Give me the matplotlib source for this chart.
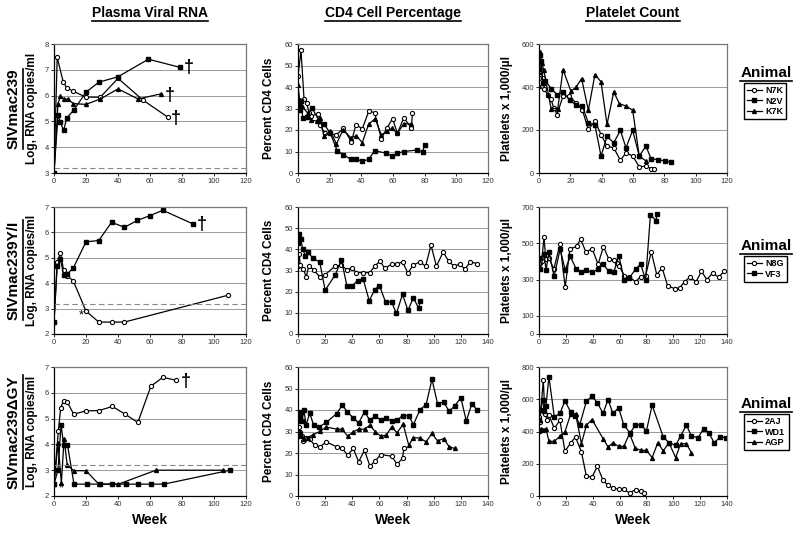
import matplotlib
matplotlib.use("Agg")
import matplotlib.pyplot as plt
from matplotlib.lines import Line2D

plt.rcParams["font.family"] = ["Liberation Sans", "DejaVu Sans"]

# ---------------- Row 1: SIVmac239 ----------------
rna1_n7k_wk = [0, 2, 5.8, 8, 12, 20, 29, 40, 55.5, 71]
rna1_n7k = [3.0, 7.48, 6.52, 6.3, 6.17, 5.94, 5.94, 6.67, 5.83, 5.17]
rna1_n2v_wk = [0, 2.5, 4, 6, 8, 12.5, 20, 28, 40, 59, 79]
rna1_n2v = [3.0, 5.26, 4.96, 4.65, 5.13, 5.45, 6.13, 6.52, 6.73, 7.41, 7.09]
rna1_k7k_wk = [0, 2.5, 4, 6, 9, 12, 20, 29, 40, 52.5, 67]
rna1_k7k = [3.0, 5.69, 5.98, 5.88, 5.85, 5.69, 5.66, 5.87, 6.26, 5.87, 6.07]

cd4_1_n7k_wk = [0, 1.9, 3.8, 5.4, 7.1, 8.4, 12.8, 14.2, 16.8, 24.3, 28.7, 33.7, 36.6, 40.6,
                44.8, 48.4, 52.6, 56.3, 59.7, 62.8, 66.8, 71.6, 72.3]
cd4_1_n7k = [45, 57, 34.5, 32.5, 28, 26.5, 27.6, 22.2, 18.4, 17.8, 20.8, 14.5, 22.5, 20.5,
             29, 28, 16, 21, 25.3, 18.4, 25.7, 21, 28]
cd4_1_n2v_wk = [0, 1.3, 2, 3, 5.4, 8.8, 13.4, 16.5, 20.5, 24.7, 28.5, 33.3, 36.9, 40.6,
                44.6, 48.4, 55.7, 59.5, 62.8, 67, 75.2, 78.7, 80]
cd4_1_n2v = [31.7, 29.4, 33.7, 25.4, 26, 30.3, 24.2, 22.7, 18.4, 10.4, 8.6, 6.4, 6.4, 5.5,
             6.3, 10.4, 9.2, 8, 9.2, 10, 10.7, 10, 13]
cd4_1_k7k_wk = [0, 1, 2.5, 6, 8.4, 12, 14, 16.3, 20.5, 24.3, 28.5, 33.3, 36.9, 40.6, 44.6,
                48.8, 52.6, 56, 59.5, 62.8, 66.8, 71.6]
cd4_1_k7k = [41, 34, 31, 28, 24.5, 24.2, 25.7, 17.3, 19.4, 13.5, 20.2, 16.4, 17.3, 14.1, 22.7,
             25.3, 17.6, 19.4, 20.7, 18.4, 23, 22.7]

plt1_n7k_wk = [0, 0.5, 1.3, 2.5, 3.4, 5.5, 7.7, 9.4, 11.5, 15.3, 19.1, 23.8, 27.7, 31.5, 35.7,
               39.6, 43.4, 47.7, 52, 55.5, 59.8, 64, 68.3, 71.5, 73.6]
plt1_n7k = [440, 472, 473, 440, 393, 362, 342, 303, 272, 357, 357, 326, 292, 203, 241,
            179, 125, 117, 59, 94, 79, 29, 32, 20, 20]
plt1_n2v_wk = [0, 0.5, 1.3, 2.4, 4, 7.7, 11.5, 15.3, 19.6, 23.8, 27.7, 31.5, 35.7, 39.6, 43.4,
               47.7, 52, 55.5, 59.8, 64, 68.3, 71.5, 76.2, 80.4, 84.3]
plt1_n2v = [484, 548, 522, 419, 430, 393, 365, 377, 339, 315, 311, 233, 223, 79, 170,
            141, 198, 117, 198, 79, 125, 66, 62, 56, 51]
plt1_k7k_wk = [0, 0.9, 1.7, 3, 6, 7.7, 12, 15.3, 20.4, 23.6, 27.2, 31.5, 35.7, 39.6, 43.4,
               47.7, 51.3, 55.5, 59.8, 64, 68.3]
plt1_k7k = [406, 565, 510, 481, 365, 300, 300, 481, 380, 399, 439, 291, 458, 424, 226,
            377, 323, 311, 292, 79, 56]

# ---------------- Row 2: SIVmac239Y/I ----------------
rna2_n8g_wk = [0, 2, 4, 6, 8, 12, 20, 28, 36, 44, 109]
rna2_n8g = [2.47, 4.82, 5.2, 4.52, 4.3, 4.1, 2.9, 2.47, 2.47, 2.47, 3.53]
rna2_vf3_wk = [0, 2, 4, 6, 8, 12, 20, 28, 36, 44, 52, 60, 68, 87]
rna2_vf3 = [2.47, 4.68, 4.95, 4.33, 4.35, 4.59, 5.63, 5.68, 6.4, 6.2, 6.47, 6.66, 6.87, 6.33]

cd4_2_n8g_wk = [0, 1, 1.5, 4, 6, 8, 11.5, 16, 20, 27.5, 32, 36, 40, 43, 48, 53, 56.5, 60.5,
                64, 69, 73, 77, 81, 85, 90, 94, 98, 102, 107, 111, 115, 119, 123, 127, 132]
cd4_2_n8g = [32, 38, 32.7, 30.7, 27, 32, 30.4, 27, 28, 32.2, 32.4, 30.4, 31.2, 29, 29, 29,
             32.2, 34.3, 31, 33, 33, 34.1, 28.8, 32.6, 34.1, 32, 42, 32, 38.8, 34.3, 32, 33,
             30.7, 34.1, 33.2]
cd4_2_vf3_wk = [0, 0.5, 2, 3.5, 5.5, 7, 11, 16, 20, 27.5, 32, 36, 40, 44, 48, 52.5, 56.5, 60,
                64.5, 69, 72.5, 77, 81, 85, 89, 90]
cd4_2_vf3 = [43.1, 47.2, 44.9, 40, 36.9, 38.9, 35.8, 34, 20.7, 28, 35, 22.9, 22.9, 25.2, 26,
             15.7, 21, 22.9, 15.1, 15.1, 9.7, 18.7, 11.2, 17.1, 12.1, 15.6]

plt2_n8g_wk = [0, 0.75, 2, 3.75, 5, 7.5, 11, 15.7, 19.5, 23, 28, 31, 35, 39.5, 44, 48, 52, 56,
               58, 59.6, 63.5, 67.2, 72, 75.7, 79.4, 83.6, 87.7, 91.7, 95.8, 101.4, 104.8,
               108.5, 112.2, 117, 121, 125, 129.3, 133.7, 137.8]
plt2_n8g = [361, 389, 400, 536, 413, 417, 358, 495, 257, 468, 483, 523, 450, 471, 385, 481,
            413, 408, 389, 376, 322, 313, 289, 316, 322, 453, 327, 364, 265, 249, 255, 289,
            313, 289, 345, 300, 336, 313, 345]
plt2_vf3_wk = [0, 0.75, 3.75, 5.25, 7.5, 11.25, 15.75, 19.5, 23.25, 27.75, 31.25, 35.25, 39.5,
               44, 47.75, 52, 55.75, 59.5, 63.5, 67.2, 72, 75.7, 79.4, 83, 87.2, 87.9]
plt2_vf3 = [418, 358, 440, 354, 450, 317, 468, 352, 428, 358, 343, 352, 339, 358, 385, 345,
            343, 431, 298, 309, 358, 385, 298, 658, 625, 662]

# ---------------- Row 3: SIVmac239dGY ----------------
rna3_2aj_wk = [0, 2.7, 4.2, 6, 8.4, 12.3, 20, 28, 36.5, 44.5, 52.4, 60.5, 68, 76]
rna3_2aj = [2.46, 4.51, 5.43, 5.7, 5.63, 5.17, 5.3, 5.31, 5.47, 5.17, 4.85, 6.25, 6.6, 6.49]
rna3_wd1_wk = [0, 2.5, 4.4, 6, 8.4, 12.5, 20.9, 28.8, 36.5, 44.9, 52.8, 60.8, 68.7, 110]
rna3_wd1 = [2.46, 3.0, 4.77, 3.99, 3.99, 2.46, 2.46, 2.46, 2.46, 2.46, 2.46, 2.46, 2.46, 3.0]
rna3_agp_wk = [0, 2.5, 4.6, 6.3, 8.2, 12.3, 20, 28, 40.3, 63.7, 105.4]
rna3_agp = [2.46, 4.05, 2.5, 4.22, 3.22, 2.98, 2.98, 2.46, 2.46, 3.0, 3.0]

cd4_3_2aj_wk = [0, 0.5, 1.5, 3, 4, 6, 8.6, 12.4, 16.4, 20.7, 28.5, 32.6, 36.6, 40.7, 44.7, 49,
                53, 57, 61, 69, 73, 77, 78]
cd4_3_2aj = [27.8, 32.1, 29.8, 28, 25.7, 27, 26.3, 23.6, 22.9, 25.2, 22.9, 22.1, 19, 22.1,
             15.9, 21.3, 13.9, 16.4, 19.3, 18.5, 14.8, 17.5, 22.1]
cd4_3_wd1_wk = [0, 1.5, 2.5, 3, 4.3, 6, 8.6, 11.6, 15.7, 20.7, 28.5, 32.6, 36.4, 40.7, 44.7,
                49, 53, 57, 61, 65, 69, 73, 77, 81.6, 85, 90, 94.4, 98.7, 102.8, 107.3, 111.4,
                115.4, 120, 124, 128, 132]
cd4_3_wd1 = [35, 36.8, 39.1, 35, 40.2, 32.9, 38.6, 32.9, 32.1, 34.2, 38.3, 42.3, 39.1, 36.3,
             34, 39.1, 35.2, 37.4, 35.2, 36.3, 34.9, 35.2, 37.4, 37.4, 33.2, 40.2, 42.5, 54.3,
             43, 43.7, 39.4, 41.9, 45.7, 34.9, 42.7, 40.2]
cd4_3_agp_wk = [0, 1.5, 2.5, 4.5, 7, 11.4, 16.4, 20.7, 28.5, 32.6, 36.6, 40.7, 44.7, 49, 53,
                57, 61, 65, 69, 73, 77.5, 81.6, 85, 90, 94.4, 98.7, 102.8, 107.3, 111.4, 115.4]
cd4_3_agp = [27.8, 30, 28.3, 26.7, 27.2, 28.6, 30.1, 32.1, 31.1, 31.1, 27.8, 29.8, 31.1, 31.1,
             32.9, 29.8, 27.8, 28.3, 32.1, 29.4, 33.4, 23.6, 27.2, 26.9, 25.2, 29.1, 25.6,
             26.7, 22.9, 22.1]

plt3_2aj_wk = [0, 0.7, 3.2, 4.4, 6.2, 7.4, 11.4, 15.6, 19.3, 23.5, 27.2, 31.6, 35.3, 39.5,
               43.5, 47.7, 51.4, 55, 59.3, 63.2, 67.4, 71.9, 76, 78.5]
plt3_2aj = [491, 460, 718, 511, 470, 501, 420, 470, 277, 329, 366, 273, 122, 118, 184, 97,
            66, 50, 41, 41, 19, 40, 29, 19]
plt3_wd1_wk = [0, 1, 2.7, 3.7, 5.2, 7.4, 11.4, 15.6, 19.3, 23.5, 27, 30.4, 35.3, 39.5, 43.5,
               47.7, 51.4, 55, 59.3, 63.2, 67.9, 71.75, 76.25, 80, 84.25, 92.5, 96.75, 101.75,
               105.5, 109.75, 113.5, 118.5, 122.5, 126.25, 130.5, 135, 139.25]
plt3_wd1 = [474, 536, 598, 526, 560, 739, 491, 512, 590, 522, 495, 443, 588, 619, 578, 512,
            598, 512, 547, 439, 391, 440, 440, 403, 564, 366, 331, 314, 372, 440, 372, 362,
            417, 393, 331, 366, 362]
plt3_agp_wk = [0, 1.5, 3.2, 5.2, 7.4, 11.4, 15.6, 19.3, 23.5, 27.2, 31.6, 35.3, 39.5, 47.7,
               51.4, 55, 59.3, 63.2, 67.4, 71.75, 76.25, 80, 84.25, 88.5, 92.5, 96.75, 101.75,
               105.5, 109.75, 113.5]
plt3_agp = [404, 418, 412, 418, 339, 339, 370, 397, 507, 511, 325, 439, 474, 356, 304, 329,
            308, 308, 387, 295, 283, 283, 238, 331, 279, 331, 238, 324, 324, 269]

row_names = ["SIVmac239", "SIVmac239Y/I", "SIVmac239\u0394GY"]
col_titles = ["Plasma Viral RNA", "CD4 Cell Percentage", "Platelet Count"]
animals = [["N7K", "N2V", "K7K"], ["N8G", "VF3"], ["2AJ", "WD1", "AGP"]]

W, H = 800, 533
fig = plt.figure(figsize=(W / 100, H / 100), dpi=100)

col_x = [(54, 246), (298, 488), (539, 727)]
row_y = [(44, 173), (207, 334), (367, 496)]
ylabel_x = [-0.085, -0.12, -0.14]


def make_ax(r, c):
    x0, x1 = col_x[c]
    y0, y1 = row_y[r]
    ax = fig.add_axes([x0 / W, 1 - y1 / H, (x1 - x0) / W, (y1 - y0) / H])
    ax.tick_params(labelsize=5.5, length=2, width=0.6, pad=1.5, labelcolor="#333333")
    for s in ["left", "bottom"]:
        ax.spines[s].set_linewidth(0.9)
    for s in ["top", "right"]:
        ax.spines[s].set_color("#777777")
        ax.spines[s].set_linewidth(0.9)
    ax.yaxis.grid(True, color="#9a9a9a", linewidth=0.7)
    ax.set_axisbelow(True)
    return ax


def ylab(ax, c, text):
    ax.set_ylabel(text, fontsize=8.5, fontweight="bold")
    ax.yaxis.set_label_coords(ylabel_x[c], 0.5)


styles = {
    "o": dict(marker="o", ms=3.0, mfc="white", mec="black", mew=0.8),
    "s": dict(marker="s", ms=3.0, mfc="black", mec="black"),
    "^": dict(marker="^", ms=2.8, mfc="black", mec="black"),
}


def series(ax, x, y, m, label=None):
    return ax.plot(x, y, color="black", lw=0.9, label=label, **styles[m])[0]


def dagger(ax, x, y):
    ax.text(x, y, "\u2020", fontsize=13, fontweight="bold", ha="left", va="center")


bold = dict(fontweight="bold")
handles = []

# Row 1
ax = make_ax(0, 0)
series(ax, rna1_n7k_wk, rna1_n7k, "o")
series(ax, rna1_n2v_wk, rna1_n2v, "s")
series(ax, rna1_k7k_wk, rna1_k7k, "^")
dagger(ax, 81, 7.1); dagger(ax, 69, 6.02); dagger(ax, 73, 5.12)
ax.axhline(3.2, color="#888888", lw=0.8, ls=(0, (5, 3)))
ax.set_xlim(0, 120); ax.set_ylim(3, 8)
ax.set_xticks(range(0, 121, 20)); ax.set_yticks(range(3, 9))
ylab(ax, 0, "Log, RNA copies/ml")

ax = make_ax(0, 1)
series(ax, cd4_1_n7k_wk, cd4_1_n7k, "o")
series(ax, cd4_1_n2v_wk, cd4_1_n2v, "s")
series(ax, cd4_1_k7k_wk, cd4_1_k7k, "^")
ax.set_xlim(0, 120); ax.set_ylim(0, 60)
ax.set_xticks(range(0, 121, 20)); ax.set_yticks(range(0, 61, 10))
ylab(ax, 1, "Percent CD4 Cells")

ax = make_ax(0, 2)
h = [series(ax, plt1_n7k_wk, plt1_n7k, "o", "N7K"),
     series(ax, plt1_n2v_wk, plt1_n2v, "s", "N2V"),
     series(ax, plt1_k7k_wk, plt1_k7k, "^", "K7K")]
handles.append(h)
ax.set_xlim(0, 120); ax.set_ylim(0, 600)
ax.set_xticks(range(0, 121, 20)); ax.set_yticks(range(0, 601, 200))
ylab(ax, 2, "Platelets x 1,000/\u00b5l")

# Row 2
ax = make_ax(1, 0)
series(ax, rna2_n8g_wk, rna2_n8g, "o")
series(ax, rna2_vf3_wk, rna2_vf3, "s")
dagger(ax, 89, 6.3)
ax.text(17, 2.75, "*", fontsize=9, ha="center", va="center")
ax.axhline(3.2, color="#888888", lw=0.8, ls=(0, (5, 3)))
ax.set_xlim(0, 120); ax.set_ylim(2, 7)
ax.set_xticks(range(0, 121, 20)); ax.set_yticks(range(2, 8))
ylab(ax, 0, "Log, RNA copies/ml")

ax = make_ax(1, 1)
series(ax, cd4_2_n8g_wk, cd4_2_n8g, "o")
series(ax, cd4_2_vf3_wk, cd4_2_vf3, "s")
ax.set_xlim(0, 140); ax.set_ylim(0, 60)
ax.set_xticks(range(0, 141, 20)); ax.set_yticks(range(0, 61, 10))
ylab(ax, 1, "Percent CD4 Cells")

ax = make_ax(1, 2)
h = [series(ax, plt2_n8g_wk, plt2_n8g, "o", "N8G"),
     series(ax, plt2_vf3_wk, plt2_vf3, "s", "VF3")]
handles.append(h)
ax.set_xlim(0, 140); ax.set_ylim(0, 700)
ax.set_xticks(range(0, 141, 20)); ax.set_yticks([0, 100, 300, 500, 700])
ax.yaxis.grid(False)
for g in [100, 300, 500]:
    ax.axhline(g, color="#9a9a9a", lw=0.7, zorder=0)
ylab(ax, 2, "Platelets x 1,000/\u00b5l")

# Row 3
ax = make_ax(2, 0)
series(ax, rna3_2aj_wk, rna3_2aj, "o")
series(ax, rna3_wd1_wk, rna3_wd1, "s")
series(ax, rna3_agp_wk, rna3_agp, "^")
dagger(ax, 79, 6.45)
ax.text(4.6, 2.3, "*", fontsize=9, ha="center", va="center")
ax.axhline(3.2, color="#888888", lw=0.8, ls=(0, (5, 3)))
ax.set_xlim(0, 120); ax.set_ylim(2, 7)
ax.set_xticks(range(0, 121, 20)); ax.set_yticks(range(2, 8))
ylab(ax, 0, "Log, RNA copies/ml")
ax.set_xlabel("Week", fontsize=10, labelpad=4, **bold)

ax = make_ax(2, 1)
series(ax, cd4_3_2aj_wk, cd4_3_2aj, "o")
series(ax, cd4_3_wd1_wk, cd4_3_wd1, "s")
series(ax, cd4_3_agp_wk, cd4_3_agp, "^")
ax.set_xlim(0, 140); ax.set_ylim(0, 60)
ax.set_xticks(range(0, 141, 20)); ax.set_yticks(range(0, 61, 10))
ylab(ax, 1, "Percent CD4 Cells")
ax.set_xlabel("Week", fontsize=10, labelpad=4, **bold)

ax = make_ax(2, 2)
h = [series(ax, plt3_2aj_wk, plt3_2aj, "o", "2AJ"),
     series(ax, plt3_wd1_wk, plt3_wd1, "s", "WD1"),
     series(ax, plt3_agp_wk, plt3_agp, "^", "AGP")]
handles.append(h)
ax.set_xlim(0, 140); ax.set_ylim(0, 800)
ax.set_xticks(range(0, 141, 20)); ax.set_yticks(range(0, 801, 200))
ylab(ax, 2, "Platelets x 1,000/\u00b5l")
ax.set_xlabel("Week", fontsize=10, labelpad=4, **bold)

# titles, row labels, legends
underlined = []
for c, t in enumerate(col_titles):
    xc = (col_x[c][0] + col_x[c][1]) / 2 / W
    underlined.append((fig.text(xc, 1 - 13 / H, t, ha="center", va="center",
                                fontsize=10, **bold), False))

row_centers = [109, 270, 432]
for r, name in enumerate(row_names):
    underlined.append((fig.text(14 / W, 1 - row_centers[r] / H, name, rotation=90,
                                ha="center", va="center", fontsize=11, **bold), True))

leg_top = [66, 239, 397]
for r in range(3):
    underlined.append((fig.text(766 / W, 1 - leg_top[r] / H, "Animal", ha="center",
                                va="top", fontsize=11, **bold), False))
    fig.legend(handles[r], animals[r], loc="upper left",
               bbox_to_anchor=(744 / W, 1 - (leg_top[r] + 17) / H),
               frameon=True, fancybox=False, edgecolor="black", framealpha=1,
               prop=dict(size=6.5, weight="bold"), handlelength=1.6,
               handletextpad=0.4, labelspacing=0.15, borderpad=0.35,
               borderaxespad=0)

fig.canvas.draw()
renderer = fig.canvas.get_renderer()
inv = fig.transFigure.inverted()
for t, vertical in underlined:
    bb = t.get_window_extent(renderer).transformed(inv)
    if vertical:
        xl = bb.x1 + 1.5 / W
        fig.add_artist(Line2D([xl, xl], [bb.y0, bb.y1], color="black", lw=1.2,
                              transform=fig.transFigure))
    else:
        yl = bb.y0 - 1.0 / H
        fig.add_artist(Line2D([bb.x0, bb.x1], [yl, yl], color="black", lw=1.2,
                              transform=fig.transFigure))

fig.savefig("out.png", dpi=100, facecolor="white")
